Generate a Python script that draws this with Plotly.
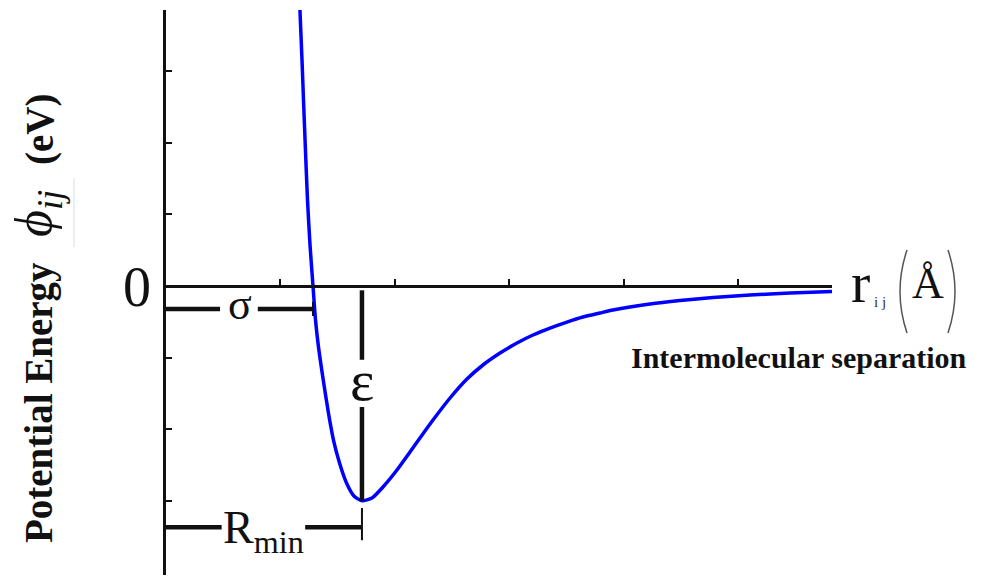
import plotly.graph_objects as go

# Lennard-Jones style pair potential
r_ij = [3.171, 3.189, 3.202, 3.219, 3.237, 3.259, 3.285, 3.307, 3.333, 3.368,
        3.420, 3.464, 3.517, 3.578, 3.643, 3.713, 3.801, 3.897, 4.019, 4.133,
        4.220, 4.334, 4.483, 4.631, 4.771, 4.920, 5.068, 5.208, 5.357, 5.505,
        5.645, 5.794, 5.907, 6.231, 6.493, 6.781, 7.105, 7.455, 7.822]
phi_ij = [3.855, 3.156, 2.598, 1.899, 1.201, 0.573, 0.0, -0.475, -0.852, -1.243,
          -1.774, -2.151, -2.472, -2.751, -2.933, -3.0, -2.961, -2.807, -2.570, -2.318,
          -2.123, -1.872, -1.564, -1.299, -1.103, -0.936, -0.796, -0.684, -0.587, -0.503,
          -0.433, -0.377, -0.335, -0.251, -0.203, -0.161, -0.126, -0.098, -0.077]

sigma = 3.285      # zero crossing
r_min = 3.713      # position of the well minimum
epsilon = 3.0      # well depth

x_ticks = [3, 4, 5, 6, 7]
y_ticks = [-3, -2, -1, 1, 2, 3]
zero_label = "0"

X_RANGE = [2.0, 7.822]
Y_RANGE = [-4.036, 3.855]

SERIF = "Liberation Serif"
INK = "#111111"

# plot-area placement in pixels (used to place the outer labels)
L, R, T, B = 166, 162, 10, 2
W, H = 994, 577
PW, PH = W - L - R, H - T - B


def px(x):
    return (x - L) / PW


def py(y):
    return (H - B - y) / PH


fig = go.Figure()
fig.add_trace(go.Scatter(
    x=r_ij, y=phi_ij, mode="lines",
    line=dict(color="#0000ff", width=3.5, shape="spline", smoothing=0.6),
    hoverinfo="skip", showlegend=False,
))

shapes = []


def seg(x0, y0, x1, y1, w):
    shapes.append(dict(type="line", xref="x", yref="y", x0=x0, y0=y0, x1=x1, y1=y1,
                       line=dict(color=INK, width=w)))


# sigma bracket
sig_y = -0.32
sig_mid = (X_RANGE[0] + sigma) / 2
seg(X_RANGE[0], sig_y, sig_mid - 0.17, sig_y, 4.5)
seg(sig_mid + 0.16, sig_y, sigma, sig_y, 4.5)
seg(sigma, -0.22, sigma, -0.42, 2)

# R_min bracket
rm_y = -3.37
rm_mid = (X_RANGE[0] + r_min) / 2
seg(X_RANGE[0], rm_y, rm_mid - 0.37, rm_y, 4.5)
seg(rm_mid + 0.36, rm_y, r_min, rm_y, 4.5)
seg(r_min, -3.10, r_min, -3.55, 2)

# epsilon bar from the zero line down to the well bottom
eps_mid = -1.36
seg(r_min, -0.06, r_min, eps_mid + 0.33, 4.5)
seg(r_min, eps_mid - 0.33, r_min, -epsilon, 4.5)

# parentheses around the unit
shapes.append(dict(type="path", xref="paper", yref="paper",
                   path=f"M {px(907)} {py(250)} Q {px(893)} {py(291.5)} {px(907)} {py(333)}",
                   line=dict(color="#555555", width=1.5)))
shapes.append(dict(type="path", xref="paper", yref="paper",
                   path=f"M {px(948)} {py(250)} Q {px(962)} {py(291.5)} {px(948)} {py(333)}",
                   line=dict(color="#555555", width=1.5)))
# faint rule beside the phi symbol
shapes.append(dict(type="line", xref="paper", yref="paper",
                   x0=px(74), y0=py(178), x1=px(74), y1=py(247),
                   line=dict(color="#dddddd", width=1)))


def label(text, x, y, size, ref="paper", angle=0, xanchor="center", yshift=0, color=INK):
    if ref == "paper":
        x, y = px(x), py(y)
    return dict(text=text, x=x, y=y, xref=ref if ref == "paper" else "x",
                yref=ref if ref == "paper" else "y", showarrow=False,
                xanchor=xanchor, yanchor="middle", textangle=angle, yshift=yshift,
                font=dict(family=SERIF, size=size, color=color))


annotations = [
    label("σ", sig_mid, sig_y, 44, ref="data", yshift=4),
    label("ε", r_min, eps_mid, 58, ref="data", yshift=3),
    label("R<sub>min</sub>", rm_mid, rm_y, 46, ref="data", yshift=-4),
    label(zero_label, 137, 287, 56),
    label("<b>Potential Energy</b>", 39, 403, 39, angle=-90),
    label("<i>ϕ</i><sub><i>ij</i></sub>", 37, 214, 52, angle=-90),
    label("<b>(eV)</b>", 40, 130, 39, angle=-90),
    label("r", 849, 282, 58, xanchor="left"),
    label("i j", 880, 302, 15, color="#333333"),
    label("Å", 928, 283, 44),
    label("<b>Intermolecular separation</b>", 799, 358, 30),
]

fig.update_layout(
    width=W, height=H,
    margin=dict(l=L, r=R, t=T, b=B),
    paper_bgcolor="white", plot_bgcolor="white",
    shapes=shapes, annotations=annotations,
    xaxis=dict(range=X_RANGE, anchor="free",
               position=(0 - Y_RANGE[0]) / (Y_RANGE[1] - Y_RANGE[0]),
               showline=True, linecolor=INK, linewidth=3,
               ticks="inside", tickvals=x_ticks, ticklen=6, tickwidth=2, tickcolor=INK,
               showticklabels=False, showgrid=False, zeroline=False, automargin=False),
    yaxis=dict(range=Y_RANGE, showline=True, linecolor=INK, linewidth=3,
               ticks="inside", tickvals=y_ticks, ticklen=6, tickwidth=2, tickcolor=INK,
               showticklabels=False, showgrid=False, zeroline=False, automargin=False),
)

fig.write_html("out.html")
